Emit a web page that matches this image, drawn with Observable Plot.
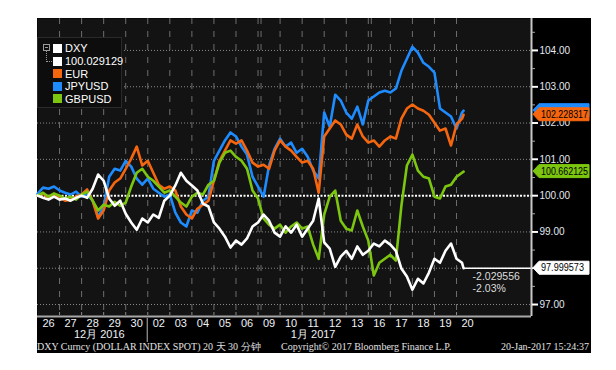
<!DOCTYPE html>
<html>
<head>
<meta charset="utf-8">
<script src="https://cdn.jsdelivr.net/npm/d3@7"></script>
<script src="https://cdn.jsdelivr.net/npm/@observablehq/plot@0.6"></script>
<style>
  html, body { margin: 0; padding: 0; background: #ffffff; }
  #wrap { position: relative; width: 616px; height: 370px; overflow: hidden; }
  #panel { position: absolute; left: 37px; top: 18px; width: 554px; height: 335px; background: #000; }
  #legend { position: absolute; left: 37px; top: 37px; width: 85px; height: 71px; background: #0d0d0d; border: 1px solid #2a2a2a; box-sizing: border-box; }
  .lrow { position: absolute; left: 15px; height: 12px; display: flex; align-items: center; font: 11px "Liberation Sans Narrow", "Liberation Sans", Arial, sans-serif; color: #fff; white-space: nowrap; }
  .lrow span.sw { display: inline-block; width: 9px; height: 9px; margin-right: 3px; }
  .foot { position: absolute; top: 341px; font: 10px "Liberation Serif", "DejaVu Serif", serif; color: #e0e0e0; white-space: nowrap; line-height: 12px; }
  .tree { position: absolute; }
</style>
</head>
<body>
<div id="wrap">
  <div id="panel"></div>
  <div id="legend"></div>
  <div class="foot" style="left:37px">DXY Curncy (DOLLAR INDEX SPOT) 20 天 30 分钟</div>
  <div class="foot" style="left:281px">Copyright© 2017 Bloomberg Finance L.P.</div>
  <div class="foot" id="stamp" style="right:27px">20-Jan-2017 15:24:37</div>
</div>
<script>
// ---- data (trading-day offsets from 26 Dec 2016, 30-minute chart, normalized) ----
const times = [0,0.25,0.5,0.75,1,1.25,1.5,1.75,2,2.25,2.5,2.75,3,3.25,3.5,3.75,4,4.25,4.5,4.75,
  5,5.25,5.5,5.75,6,6.25,6.5,6.75,7,7.25,7.5,7.75,8,8.25,8.5,8.75,9,9.25,9.5,9.75,
  10,10.25,10.5,10.75,11,11.25,11.5,11.75,12,12.25,12.5,12.75,13,13.25,13.5,13.75,14,14.25,14.5,14.75,
  15,15.25,15.5,15.75,16,16.25,16.5,16.75,17,17.25,17.5,17.75,18,18.25,18.5,18.75,19,19.25,19.32];

const dxyValues = [100.00,99.94,99.89,99.97,99.89,99.92,99.86,99.94,100.00,99.94,
  100.19,100.58,100.41,99.92,99.72,99.86,99.50,99.26,99.06,99.37,
  99.26,99.48,99.39,99.86,100.00,100.28,100.63,100.41,100.28,100.14,
  99.78,99.70,99.26,99.09,98.87,98.57,98.76,98.65,98.82,99.15,
  99.26,99.48,99.31,98.98,98.87,99.15,98.98,99.20,98.87,99.09,
  99.31,99.92,98.71,98.54,98.04,98.32,98.48,98.26,98.60,98.37,
  98.48,98.68,98.60,98.76,98.65,98.48,97.99,97.77,97.41,97.71,
  97.58,97.88,98.26,98.15,98.48,98.68,98.26,98.15,97.999573];

const eurValues = [100.00,100.06,99.94,100.03,99.97,99.86,99.89,99.97,100.03,100.17,
  99.86,99.37,99.59,100.14,100.36,100.47,100.74,101.02,101.35,100.83,
  100.96,100.63,100.30,100.19,100.25,100.14,99.70,99.48,99.37,99.64,
  99.75,99.86,100.41,100.96,101.24,101.52,101.43,101.52,101.24,100.91,
  100.80,100.85,100.74,101.24,101.52,101.35,101.24,101.07,100.91,100.96,
  100.74,100.08,101.63,101.85,102.07,101.96,101.68,101.57,101.96,101.63,
  101.46,101.52,101.35,101.52,101.63,101.57,102.12,102.40,102.51,102.40,
  102.34,102.23,102.01,101.79,101.85,101.38,101.96,102.12,102.228317];

const jpyValues = [100.05,100.22,100.19,100.25,100.14,100.08,100.03,100.11,99.97,100.03,
  99.86,99.42,99.70,100.52,100.74,100.69,100.96,100.80,100.47,100.30,
  100.47,100.19,100.08,99.97,100.03,99.53,99.26,99.15,99.59,99.53,
  99.86,99.97,100.96,101.24,101.52,101.74,101.63,101.35,101.13,100.52,
  100.25,99.97,100.83,101.29,101.57,101.35,101.46,101.18,101.29,101.07,
  100.69,100.47,102.29,101.90,102.78,102.62,102.29,102.12,102.45,101.96,
  102.62,102.73,102.84,102.89,102.84,102.95,103.44,103.77,104.10,103.94,
  103.66,103.55,103.39,102.40,102.29,102.18,101.85,102.29,102.34];

const gbpValues = [100.00,100.08,99.97,100.06,100.00,99.92,99.97,99.89,100.03,100.11,
  99.86,99.59,99.75,99.70,99.83,99.72,99.81,100.25,100.63,100.74,
  100.52,100.41,100.25,100.08,100.14,99.97,99.81,99.70,99.97,100.08,
  100.03,100.30,100.41,100.91,101.18,101.24,101.07,100.96,100.74,100.14,
  99.92,99.37,99.20,99.09,99.20,98.98,99.15,99.26,99.09,99.15,
  98.65,98.26,99.48,99.97,100.14,99.31,99.09,99.04,99.59,99.15,
  98.76,97.80,98.15,98.26,98.37,98.21,99.72,100.83,101.13,100.69,
  100.52,100.47,99.97,99.92,100.25,100.30,100.52,100.63,100.662125];

const seriesNames  = ["DXY", "EUR", "JPYUSD", "GBPUSD"];
const seriesColors = ["#ffffff", "#f5660f", "#1e8cff", "#7cc60f"];
const lastTexts    = ["97.999573", "102.228317", "", "100.662125"];  // JPYUSD tag is covered by the EUR tag
const legendTexts  = ["DXY", "100.029129", "EUR", "JPYUSD", "GBPUSD"];
const legendColors = ["#ffffff", "#ffffff", "#f5660f", "#1e8cff", "#7cc60f"];
const changeAbsText = "-2.029556";
const changePctText = "-2.03%";

const dayLabels = ["26","27","28","29","30","02","03","04","05","06",
                   "09","10","11","12","13","16","17","18","19","20"];
const monthLabels  = ["12月 2016", "1月 2017"];
const monthCenters = [2.8, 12.5];
const monthBreaks  = [5];
const weekBreaks   = [10, 15];
const yTicks       = [97, 98, 99, 100, 101, 102, 103, 104];
const yTickLabels  = [97, 99, 100, 101, 102, 103, 104];   // 98.00 sits under the DXY tag
const gridValues   = [97, 98, 99, 101, 102, 103, 104];
const minorTicks   = [97.5, 98.5, 99.5, 100.5, 101.5, 102.5, 103.5, 104.5];
const baseline     = [100];
const xDomain = [0, 22.4];
const yDomain = [96.67, 104.88];

// ---- derived tables ----
const valuesBy = {DXY: dxyValues, EUR: eurValues, JPYUSD: jpyValues, GBPUSD: gbpValues};
const colorOf = Object.fromEntries(seriesNames.map((n, i) => [n, seriesColors[i]]));
const rows = n => times.map((t, i) => ({t, v: valuesBy[n][i]}));
const dayBounds = dayLabels.slice(1).map((_, i) => i + 1);
const dayCenters = dayLabels.map((lab, i) => ({x: i + 0.5, lab}));
const months = monthLabels.map((lab, i) => ({x: monthCenters[i], lab}));
const lastT = times[times.length - 1];
const lastDxy = dxyValues[dxyValues.length - 1];
const tagOrder = ["JPYUSD", "EUR", "GBPUSD", "DXY"];
const tags = tagOrder.map(n => ({
  v: valuesBy[n][valuesBy[n].length - 1],
  color: colorOf[n],
  text: lastTexts[seriesNames.indexOf(n)]
}));

const FONT = '"Liberation Sans Narrow", "Liberation Sans", Arial, sans-serif';

function decorations(index, scales, values, dims) {
  const g = d3.create("svg:g").attr("text-anchor", "start");
  const x = scales.x, y = scales.y;
  const right = dims.width - dims.marginRight;
  const bottom = dims.height - dims.marginBottom;
  for (const b of monthBreaks) {
    g.append("line").attr("x1", x(b)).attr("x2", x(b))
      .attr("y1", bottom + 2).attr("y2", bottom + 26)
      .attr("stroke", "#9a9a9a").attr("stroke-width", 1.2);
  }
  for (const tg of tags) {
    const yc = y(tg.v), x0 = right + 2, x1 = dims.width - 2, h = 6.5;
    g.append("path")
      .attr("d", `M${x0},${yc} L${x0 + 6},${yc - h} L${x1},${yc - h} L${x1},${yc + h} L${x0 + 6},${yc + h} Z`)
      .attr("fill", tg.color).attr("stroke", tg.color).attr("stroke-linejoin", "round");
    if (!tg.text) continue;
    g.append("text").attr("x", x0 + 8).attr("y", yc + 3.6)
      .attr("text-anchor", "start")
      .attr("font-family", FONT).attr("font-size", 10).attr("fill", "#000")
      .attr("textLength", tg.text.length > 9 ? 47 : 43).attr("lengthAdjust", "spacingAndGlyphs")
      .text(tg.text);
  }
  return g.node();
}

const chart = Plot.plot({
  width: 554,
  height: 335,
  marginLeft: 0,
  marginRight: 60,
  marginTop: 0,
  marginBottom: 37,
  style: {background: "transparent", color: "#e8edf3", fontFamily: FONT, fontSize: "10px", overflow: "visible"},
  x: {type: "linear", domain: xDomain, axis: null},
  y: {domain: yDomain, axis: null},
  marks: [
    Plot.frame({fill: "#131313", stroke: "none"}),
    Plot.ruleX(dayBounds, {stroke: "#6e6e6e", strokeWidth: 1, strokeDasharray: "6,7"}),
    Plot.ruleX(weekBreaks, {stroke: "#6e6e6e", strokeWidth: 1, strokeDasharray: "6,7", dx: 3}),
    Plot.ruleY(gridValues, {stroke: "#8c8c8c", strokeWidth: 1, strokeDasharray: "1,2"}),
    Plot.ruleY(baseline, {stroke: "#ffffff", strokeWidth: 2, strokeDasharray: "2,1.5"}),
    Plot.line(rows("JPYUSD"), {x: "t", y: "v", stroke: colorOf.JPYUSD, strokeWidth: 2.6}),
    Plot.line(rows("EUR"), {x: "t", y: "v", stroke: colorOf.EUR, strokeWidth: 2.6}),
    Plot.line(rows("GBPUSD"), {x: "t", y: "v", stroke: colorOf.GBPUSD, strokeWidth: 2.6}),
    Plot.line(rows("DXY"), {x: "t", y: "v", stroke: colorOf.DXY, strokeWidth: 2.6}),
    Plot.ruleY([lastDxy], {x1: lastT, x2: xDomain[1], stroke: "#ffffff", strokeWidth: 1.3}),
    Plot.text([changeAbsText], {x: lastT, y: lastDxy, text: d => d, dx: 9, dy: 8,
      textAnchor: "start", fill: "#dcdcdc", fontSize: 10.5}),
    Plot.text([changePctText], {x: lastT, y: lastDxy, text: d => d, dx: 9, dy: 20,
      textAnchor: "start", fill: "#dcdcdc", fontSize: 10.5}),
    Plot.ruleY([yDomain[0]], {stroke: "#a8a8a8", strokeWidth: 2}),
    Plot.axisX(dayBounds, {anchor: "bottom", tickSize: 3, dy: -4, tickFormat: () => "", stroke: "#8a8a8a", label: null}),
    Plot.text(dayCenters, {x: "x", text: "lab", frameAnchor: "bottom", dy: 10, fill: "#eef2f6", fontSize: 11}),
    Plot.text(months, {x: "x", text: "lab", frameAnchor: "bottom", dy: 21, fill: "#eef2f6", fontSize: 11}),
    Plot.ruleX([xDomain[1]], {stroke: "#c8c8c8", strokeWidth: 2}),
    Plot.axisY(minorTicks, {anchor: "right", tickSize: 3, tickFormat: () => "", stroke: "#aaaaaa", label: null}),
    Plot.axisY(yTicks, {anchor: "right", tickSize: 6, tickFormat: () => "", stroke: "#ffffff", strokeWidth: 1.6, label: null}),
    Plot.axisY(yTickLabels, {anchor: "right", tickSize: 6, tickPadding: 2, tickFormat: d3.format(".2f"),
      stroke: "#ffffff", strokeWidth: 1.6, fill: "#e2e9f2", fontSize: 10, label: null}),
    decorations
  ]
});
chart.style.position = "absolute";
chart.style.left = "0px";
chart.style.top = "0px";
document.getElementById("panel").appendChild(chart);

// legend
const legend = document.getElementById("legend");
legendTexts.forEach((t, i) => {
  const r = document.createElement("div");
  r.className = "lrow";
  r.style.top = [4, 17, 29.5, 42, 54.5][i] + "px";
  const sw = document.createElement("span");
  sw.className = "sw";
  sw.style.background = legendColors[i];
  r.appendChild(sw);
  r.appendChild(document.createTextNode(t));
  legend.appendChild(r);
});
const box = document.createElement("div");
box.className = "tree";
box.style.cssText += "left:5px;top:6px;width:5px;height:5px;border:1px solid #9a9a9a;";
const minus = document.createElement("div");
minus.style.cssText = "position:absolute;left:1px;top:2px;width:3px;height:1px;background:#9a9a9a;";
box.appendChild(minus);
legend.appendChild(box);
const stem = document.createElement("div");
stem.className = "tree";
stem.style.cssText += "left:8px;top:13px;width:5px;height:10px;border-left:1px dotted #9a9a9a;border-bottom:1px dotted #9a9a9a;";
legend.appendChild(stem);
</script>
</body>
</html>
